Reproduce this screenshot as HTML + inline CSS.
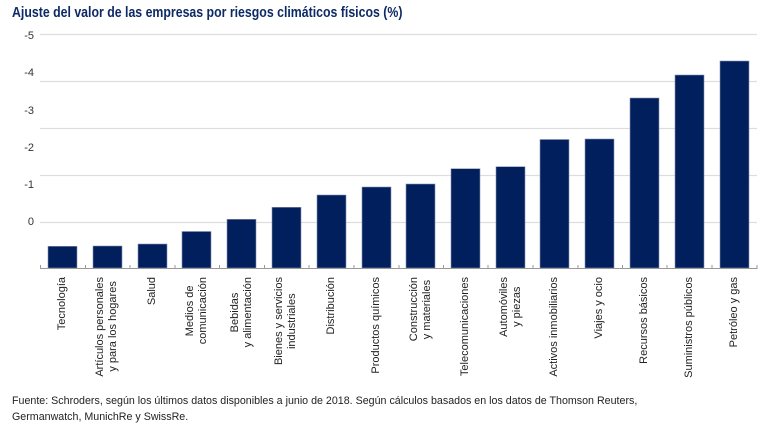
<!DOCTYPE html>
<html><head><meta charset="utf-8"><style>
body{margin:0;width:770px;height:422px;background:#fff;position:relative;overflow:hidden;font-family:"Liberation Sans",sans-serif;}
.t{position:absolute;left:12px;top:5px;font-size:14.5px;font-weight:bold;color:#0d2a66;transform:scaleX(0.85);transform-origin:0 0;white-space:nowrap;}
.yl{position:absolute;right:736px;font-size:11px;color:#333;line-height:12px;}
.xl{position:absolute;top:277px;writing-mode:vertical-rl;transform:rotate(180deg);text-align:center;font-size:11px;line-height:13px;color:#222;white-space:nowrap;}
.f{position:absolute;left:12px;top:393px;font-size:11.3px;line-height:16px;color:#222;transform:scaleX(0.945);transform-origin:0 0;white-space:nowrap;}
</style></head><body>
<div class="t">Ajuste del valor de las empresas por riesgos climáticos físicos (%)</div>
<div class="yl" style="top:30px">-5</div>
<div class="yl" style="top:67px">-4</div>
<div class="yl" style="top:105px">-3</div>
<div class="yl" style="top:142px">-2</div>
<div class="yl" style="top:179px">-1</div>
<div class="yl" style="top:216px">0</div>
<svg width="770" height="422" style="position:absolute;left:0;top:0">
<g stroke="#ddd" stroke-width="1.2">
<line x1="40" x2="757" y1="34.5" y2="34.5"/><line x1="40" x2="757" y1="81.5" y2="81.5"/>
<line x1="40" x2="757" y1="128.5" y2="128.5"/><line x1="40" x2="757" y1="175.5" y2="175.5"/>
<line x1="40" x2="757" y1="222.5" y2="222.5"/></g>
<g fill="#001f5c" stroke="#8893b0" stroke-width="0.6">
<rect x="48" y="246.3" width="29" height="21.7"/>
<rect x="93" y="246" width="29" height="22"/>
<rect x="138" y="244" width="29" height="24"/>
<rect x="182" y="231.5" width="29" height="36.5"/>
<rect x="227" y="219.3" width="29" height="48.7"/>
<rect x="272" y="207.3" width="29" height="60.7"/>
<rect x="317" y="195" width="29" height="73"/>
<rect x="362" y="187" width="29" height="81"/>
<rect x="406" y="184" width="29" height="84"/>
<rect x="451" y="168.7" width="29" height="99.3"/>
<rect x="496" y="166.7" width="29" height="101.3"/>
<rect x="540" y="139.5" width="29" height="128.5"/>
<rect x="585" y="139" width="29" height="129"/>
<rect x="630" y="98" width="29" height="170"/>
<rect x="675" y="75" width="29" height="193"/>
<rect x="720" y="61" width="29" height="207"/>
</g>
<line x1="40" x2="757" y1="268.5" y2="268.5" stroke="#999" stroke-width="1"/>
<g stroke="#999" stroke-width="1">
<line x1="40.5" x2="40.5" y1="265" y2="269"/><line x1="85.5" x2="85.5" y1="265" y2="269"/><line x1="130" x2="130" y1="265" y2="269"/><line x1="175" x2="175" y1="265" y2="269"/><line x1="219.5" x2="219.5" y1="265" y2="269"/><line x1="264.5" x2="264.5" y1="265" y2="269"/><line x1="309" x2="309" y1="265" y2="269"/><line x1="354" x2="354" y1="265" y2="269"/><line x1="399" x2="399" y1="265" y2="269"/><line x1="443.5" x2="443.5" y1="265" y2="269"/><line x1="488" x2="488" y1="265" y2="269"/><line x1="533" x2="533" y1="265" y2="269"/><line x1="578" x2="578" y1="265" y2="269"/><line x1="622.5" x2="622.5" y1="265" y2="269"/><line x1="667" x2="667" y1="265" y2="269"/><line x1="712" x2="712" y1="265" y2="269"/><line x1="757" x2="757" y1="265" y2="269"/>
</g></svg>
<div class="xl" style="left:56px">Tecnología</div>
<div class="xl" style="left:94px">Artículos personales<br>y para los hogares</div>
<div class="xl" style="left:146px">Salud</div>
<div class="xl" style="left:184px">Medios de<br>comunicación</div>
<div class="xl" style="left:229px">Bebidas<br>y alimentación</div>
<div class="xl" style="left:273px">Bienes y servicios<br>industriales</div>
<div class="xl" style="left:325px">Distribución</div>
<div class="xl" style="left:370px">Productos químicos</div>
<div class="xl" style="left:408px">Construcción<br>y materiales</div>
<div class="xl" style="left:459px">Telecomunicaciones</div>
<div class="xl" style="left:498px">Automóviles<br>y piezas</div>
<div class="xl" style="left:548px">Activos inmobiliarios</div>
<div class="xl" style="left:593px">Viajes y ocio</div>
<div class="xl" style="left:638px">Recursos básicos</div>
<div class="xl" style="left:683px">Suministros públicos</div>
<div class="xl" style="left:728px">Petróleo y gas</div>
<div class="f">Fuente: Schroders, según los últimos datos disponibles a junio de 2018. Según cálculos basados en los datos de Thomson Reuters,<br>Germanwatch, MunichRe y SwissRe.</div>
</body></html>
